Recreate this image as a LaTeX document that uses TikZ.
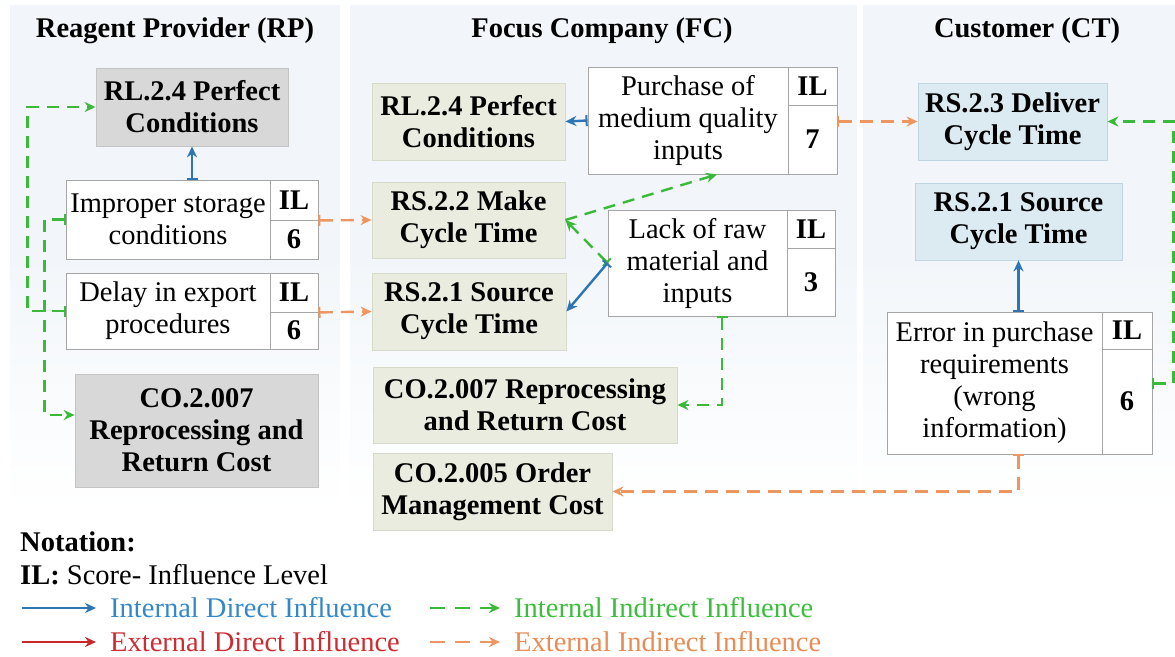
\documentclass[tikz,border=0pt]{standalone}
\usepackage{fontspec}
\setmainfont{Liberation Serif}
\usetikzlibrary{arrows.meta,calc}

\definecolor{panel}{RGB}{242,246,250}
\definecolor{rpfill}{RGB}{216,216,216}
\definecolor{rpdraw}{RGB}{196,196,196}
\definecolor{fcfill}{RGB}{233,236,222}
\definecolor{fcdraw}{RGB}{214,218,200}
\definecolor{ctfill}{RGB}{220,234,242}
\definecolor{ctdraw}{RGB}{192,212,225}
\definecolor{cellgray}{RGB}{165,165,165}
\definecolor{idblue}{RGB}{46,117,182}
\definecolor{iigreen}{RGB}{58,185,58}
\definecolor{edred}{RGB}{200,40,45}
\definecolor{eiorange}{RGB}{238,150,95}
\definecolor{txblue}{RGB}{52,136,200}
\definecolor{txgreen}{RGB}{60,190,60}
\definecolor{txred}{RGB}{205,45,50}
\definecolor{txorange}{RGB}{232,140,85}

\tikzset{
  txt/.style={font=\fontsize{28.5}{32}\selectfont},
  cell/.style={txt, draw=cellgray, line width=0.9pt, fill=white, inner sep=0pt, align=center},
  ilcell/.style={cell, font=\fontsize{28.5}{32}\selectfont\bfseries},
  kpi/.style={inner sep=0pt, align=center, line width=0.8pt,
              font=\fontsize{28.5}{32}\selectfont\bfseries},
  rpbox/.style={kpi, fill=rpfill, draw=rpdraw},
  fcbox/.style={kpi, fill=fcfill, draw=fcdraw},
  ctbox/.style={kpi, fill=ctfill, draw=ctdraw},
  title/.style={font=\fontsize{28.5}{32}\selectfont\bfseries},
  conn/.style={line width=2.4pt},
  tip/.style={Stealth[length=11pt,width=10pt]},
  headtip/.style={-{Stealth[length=11pt,width=10pt]}},
  bartip/.style={Bar[width=11pt,line width=2pt]},
  bluearr/.style={conn, draw=idblue, {Bar[width=11pt,line width=2pt]}-{Stealth[length=11pt,width=10pt]}},
  greenarr/.style={conn, draw=iigreen, dash pattern=on 12pt off 8pt,
                   {Bar[width=11pt,line width=2pt]}-{Stealth[length=11pt,width=10pt]}},
  orangearr/.style={conn, draw=eiorange, dash pattern=on 13pt off 8pt,
                    {Bar[width=11pt,line width=2pt]}-{Stealth[length=11pt,width=10pt]}},
  legtxt/.style={txt, anchor=west, inner sep=0pt}
}

\begin{document}
\begin{tikzpicture}[x=1pt, y=-1pt]
\useasboundingbox (0,0) rectangle (1175,656);

% three actor panels, fading towards the bottom
\shade[top color=panel, bottom color=white, middle color=panel] (10,5) rectangle (340,510);
\shade[top color=panel, bottom color=white, middle color=panel] (350,5) rectangle (857,510);
\shade[top color=panel, bottom color=white, middle color=panel] (863,5) rectangle (1175,510);

\node[title] (tRP) at (175,31) {Reagent Provider (RP)};
\node[title] (tFC) at (602,31) {Focus Company (FC)};
\node[title] (tCT) at (1027,31) {Customer (CT)};

% ---------------- Reagent Provider ----------------
\node[rpbox, minimum width=192pt, minimum height=78pt] (rpRL) at (192,107)
  {RL.2.4 Perfect\\Conditions};

\node[cell, minimum width=204pt, minimum height=79pt] (rpImp) at (168,219.5)
  {Improper storage\\conditions};
\node[ilcell, minimum width=48pt, minimum height=40pt] (rpImpIL) at (294,200) {IL};
\node[ilcell, minimum width=48pt, minimum height=39pt] (rpImpV) at (294,239.5) {6};

\node[cell, minimum width=204pt, minimum height=76pt] (rpDel) at (168,311)
  {Delay in export\\procedures};
\node[ilcell, minimum width=48pt, minimum height=39pt] (rpDelIL) at (294,292.5) {IL};
\node[ilcell, minimum width=48pt, minimum height=37pt] (rpDelV) at (294,330.5) {6};

\node[rpbox, minimum width=243pt, minimum height=113pt] (rpCO) at (196.5,430.5)
  {CO.2.007\\Reprocessing and\\Return Cost};

% ---------------- Focus Company ----------------
\node[fcbox, minimum width=193pt, minimum height=77pt] (fcRL) at (468.5,121.5)
  {RL.2.4 Perfect\\Conditions};
\node[fcbox, minimum width=193pt, minimum height=76pt] (fcMake) at (468.5,220)
  {RS.2.2 Make\\Cycle Time};
\node[fcbox, minimum width=194pt, minimum height=77pt] (fcSrc) at (469,311.5)
  {RS.2.1 Source\\Cycle Time};
\node[fcbox, minimum width=304pt, minimum height=76pt] (fcCO7) at (525,405)
  {CO.2.007 Reprocessing\\and Return Cost};
\node[fcbox, minimum width=239pt, minimum height=77pt] (fcCO5) at (492.5,491.5)
  {CO.2.005 Order\\Management Cost};

\node[cell, minimum width=200pt, minimum height=107pt] (fcPur) at (688,120.5)
  {Purchase of\\medium quality\\inputs};
\node[ilcell, minimum width=49pt, minimum height=38pt] (fcPurIL) at (812.5,86) {IL};
\node[ilcell, minimum width=49pt, minimum height=69pt] (fcPurV) at (812.5,139.5) {7};

\node[cell, minimum width=179pt, minimum height=106pt] (fcLack) at (697.5,263)
  {Lack of raw\\material and\\inputs};
\node[ilcell, minimum width=48pt, minimum height=38pt] (fcLackIL) at (811,229) {IL};
\node[ilcell, minimum width=48pt, minimum height=68pt] (fcLackV) at (811,282) {3};

% ---------------- Customer ----------------
\node[ctbox, minimum width=189pt, minimum height=77pt] (ctDel) at (1012.5,121.5)
  {RS.2.3 Deliver\\Cycle Time};
\node[ctbox, minimum width=207pt, minimum height=77pt] (ctSrc) at (1018.5,221.5)
  {RS.2.1 Source\\Cycle Time};

\node[cell, minimum width=215pt, minimum height=142pt] (ctErr) at (994.5,383)
  {Error in purchase\\requirements\\(wrong\\information)};
\node[ilcell, minimum width=50pt, minimum height=37pt] (ctErrIL) at (1127,330.5) {IL};
\node[ilcell, minimum width=50pt, minimum height=105pt] (ctErrV) at (1127,401.5) {6};

% ---------------- influences ----------------
% Reagent Provider
\draw[bluearr] (rpRL.south |- rpImp.north) -- (rpRL.south);
\draw[greenarr] (rpDel.west) -- ++(-38,0) |- (rpRL.west);
\draw[greenarr] (rpImp.west) -- ++(-21,0) |- ([yshift=15.5pt]rpCO.west);
\draw[orangearr] (rpImpIL.south east) -- (fcMake.west);
\draw[orangearr] (rpDelIL.south east) -- (fcSrc.west);

% Focus Company
\draw[bluearr] (fcPur.west) -- (fcRL.east);
\draw[greenarr] (fcLack.west) -- (fcMake.east);
\draw[conn, draw=iigreen, dash pattern=on 12pt off 8pt, headtip]
  (fcMake.east) -- ([xshift=29pt]fcPur.south);
\draw[bluearr] (fcLack.west) -- (fcSrc.east);
\draw[greenarr] ([xshift=24.5pt]fcLack.south) |- (fcCO7.east);
\draw[orangearr] (fcPurV.east |- ctDel.west) -- (ctDel.west);

% Customer
\draw[bluearr] (ctSrc.south |- ctErr.north) -- (ctSrc.south);
\draw[greenarr] ([yshift=18pt]ctErrV.east) -- ++(21,0) |- (ctDel.east);
\draw[orangearr] (ctSrc.south |- ctErr.south) |- (fcCO5.east);

% ---------------- notation ----------------
\node[legtxt, font=\fontsize{28.5}{32}\selectfont\bfseries] (notation) at (20,542) {Notation:};
\node[legtxt] (ilnote) at (20,575) {\textbf{IL:} Score- Influence Level};

\coordinate (lgBa) at (22,608);  \coordinate (lgBb) at (96,608);
\coordinate (lgRa) at (22,642);  \coordinate (lgRb) at (96,642);
\coordinate (lgGa) at (430,608); \coordinate (lgGb) at (500,608);
\coordinate (lgOa) at (430,642); \coordinate (lgOb) at (500,642);

\draw[conn, draw=idblue, headtip] (lgBa) -- (lgBb);
\draw[conn, draw=edred, headtip] (lgRa) -- (lgRb);
\draw[conn, draw=iigreen, dash pattern=on 15pt off 10pt, headtip] (lgGa) -- (lgGb);
\draw[conn, draw=eiorange, dash pattern=on 15pt off 10pt, headtip] (lgOa) -- (lgOb);

\node[legtxt, text=txblue] (lgB) at (110,608) {Internal Direct Influence};
\node[legtxt, text=txred] (lgR) at (110,642) {External Direct Influence};
\node[legtxt, text=txgreen] (lgG) at (514,608) {Internal Indirect Influence};
\node[legtxt, text=txorange] (lgO) at (514,642) {External Indirect Influence};
\end{tikzpicture}
\end{document}
